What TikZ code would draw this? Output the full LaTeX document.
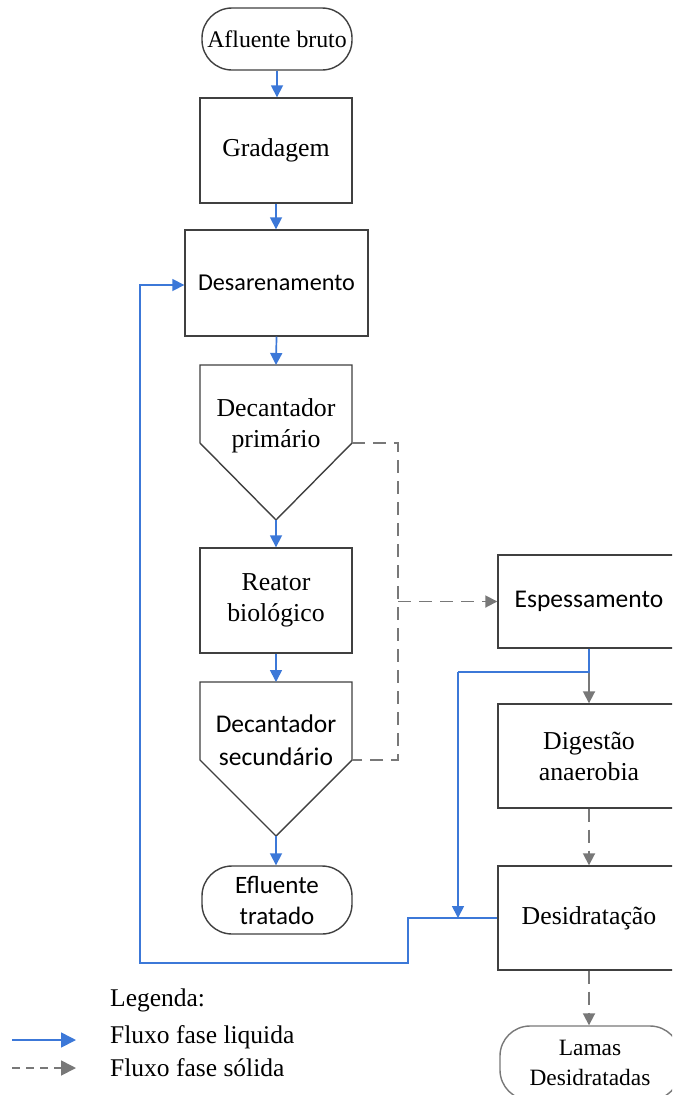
\documentclass[tikz,border=0pt]{standalone}
\usepackage{fontspec}
\setmainfont{Liberation Serif}
\newfontfamily\calib{Carlito}
\usetikzlibrary{arrows.meta}
\definecolor{flowblue}{RGB}{60,120,216}
\definecolor{flowgray}{RGB}{120,120,120}
\definecolor{edgecol}{RGB}{64,64,64}
\tikzset{
  box/.style={draw=edgecol, line width=1.4pt, rectangle, inner sep=0pt, align=center,
    font=\fontsize{25.8}{31}\selectfont},
  sbox/.style={box, font=\calib\fontsize{25.5}{31}\selectfont},
  term/.style={box, rounded corners=30pt},
  shapeline/.style={draw=edgecol, line width=1.4pt},
  lbl/.style={inner sep=0pt, align=center, font=\fontsize{25.8}{31}\selectfont},
  liqline/.style={draw=flowblue, line width=1.7pt},
  liq/.style={liqline, -{Triangle[width=12pt,length=12pt]}},
  solline/.style={draw=flowgray, line width=1.8pt, dash pattern=on 13pt off 8pt},
  sol/.style={solline, -{Triangle[width=12pt,length=12pt]}},
  solfull/.style={draw=flowgray, line width=1.8pt, -{Triangle[width=12pt,length=12pt]}},
  legtext/.style={anchor=west, inner sep=0pt, font=\fontsize{25.5}{28}\selectfont}
}
\begin{document}
\begin{tikzpicture}[x=1pt,y=-1pt]
\clip (0,0) rectangle (672,1095);
\fill[white] (0,0) rectangle (672,1095);

% main column
\node[term, minimum width=150pt, minimum height=62pt, font=\fontsize{23.8}{28}\selectfont] (afl) at (277,39) {Afluente bruto};
\node[box, minimum width=152pt, minimum height=105pt] (grad) at (276,150.5) {Gradagem};
\node[sbox, minimum width=183pt, minimum height=106pt, font=\calib\fontsize{24.2}{31}\selectfont] (des) at (276.5,283) {Desarenamento};

% Decantador primario
\coordinate (dpTop) at (276,365);
\coordinate (dpTip) at (276,520);
\coordinate (dpR) at (352,443);
\coordinate (dpL) at (200,443);
\draw[shapeline] (200,365) -- (352,365) -- (dpR) -- (dpTip) -- (dpL) -- cycle;
\node[lbl] (dp) at (276,426) {Decantador\\primário};

\node[box, minimum width=152pt, minimum height=105pt] (rea) at (276,600.5) {Reator\\biológico};

% Decantador secundario
\coordinate (dsTop) at (276,682);
\coordinate (dsTip) at (276,836);
\coordinate (dsR) at (352,760);
\coordinate (dsL) at (200,760);
\draw[shapeline] (200,682) -- (352,682) -- (dsR) -- (dsTip) -- (dsL) -- cycle;
\node[lbl, font=\calib\fontsize{25.5}{33}\selectfont] (ds) at (276,740) {Decantador\\secundário};

\node[term, minimum width=150pt, minimum height=68pt, font=\calib\fontsize{25}{31}\selectfont] (efl) at (277,900) {Efluente\\tratado};

% sludge column
\node[sbox, minimum width=182pt, minimum height=93pt] (esp) at (589,601.5) {Espessamento};
\node[box, minimum width=182pt, minimum height=104pt] (dig) at (589,756) {Digestão\\anaerobia};
\node[box, minimum width=182pt, minimum height=104pt] (dsd) at (589,918) {Desidratação};
\node[term, draw=flowgray, minimum width=180pt, minimum height=74pt, font=\fontsize{23.4}{30}\selectfont] (lam) at (590,1063) {Lamas\\Desidratadas};

% liquid flow
\draw[liq] (afl.south) -- (afl.south |- grad.north);
\draw[liq] (grad.south) -- (grad.south |- des.north);
\draw[liq] (des.south) -- (dpTop);
\draw[liq] (dpTip) -- (rea.north);
\draw[liq] (rea.south) -- (dsTop);
\draw[liq] (dsTip) -- (dsTip |- efl.north);

% solid flow
\coordinate (sj1) at (398,443);
\coordinate (sj2) at (398,760);
\coordinate (sj3) at (398,601.5);
\draw[solline] (dpR) -- (sj1) -- (sj2) -- (dsR);
\draw[sol] (sj3) -- (esp.west);
\draw[solfull] (esp.south) -- (dig.north);
\draw[sol] (dig.south) -- (dsd.north);
\draw[sol] (dsd.south) -- (dsd.south |- lam.north);

% return flows
\coordinate (r1) at (408,918);
\coordinate (r2) at (408,963);
\coordinate (r3) at (140,963);
\coordinate (r4) at (140,285);
\draw[liq] (dsd.west) -- (r1) -- (r2) -- (r3) -- (r4) -- (des.west |- r4);
\coordinate (e1) at (589,672);
\coordinate (e2) at (458,672);
\coordinate (e3) at (458,918);
\draw[liqline] (esp.south) -- (e1) -- (e2);
\draw[liq] (e2) -- (e3);

% legend
\node[legtext] (leg) at (110,1000) {Legenda:};
\node[legtext] (legl) at (110,1037) {Fluxo fase liquida};
\node[legtext] (legs) at (110,1068) {Fluxo fase sólida};
\coordinate (la) at (12,1040);
\coordinate (lb) at (76,1040);
\coordinate (lc) at (12,1068);
\coordinate (ld) at (76,1068);
\draw[liqline, -{Triangle[width=15pt,length=15pt]}] (la) -- (lb);
\draw[solline, dash pattern=on 8pt off 6pt, -{Triangle[width=15pt,length=15pt]}] (lc) -- (ld);
\end{tikzpicture}
\end{document}
